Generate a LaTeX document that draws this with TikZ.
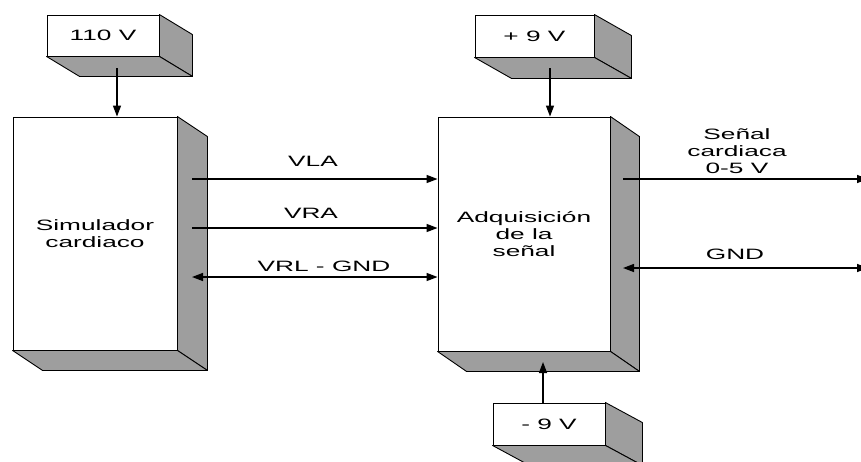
\documentclass[tikz,border=0pt]{standalone}
\usepackage{fontspec}
\newfontfamily\wide{Liberation Sans}[FakeStretch=1.75]
\usetikzlibrary{arrows.meta,calc}
\definecolor{sidegray}{RGB}{158,158,158}
\tikzset{
  face/.style={draw=black, fill=white, line width=0.9pt, rectangle, inner sep=0pt,
    font=\wide\fontsize{15}{17}\selectfont, align=center},
  sideface/.style={draw=black, fill=sidegray, line width=0.9pt, line join=round},
  lbl/.style={font=\wide\fontsize{15}{17}\selectfont, align=center, inner sep=0pt},
  tip/.tip={Triangle[length=11pt,width=8pt]},
  conn/.style={line width=1.4pt, -tip},
  biconn/.style={line width=1.4pt, tip-tip},
}
\newcommand\extrude[3]{%
  \filldraw[sideface] (#1.north east) -- ($(#1.north east)+(#2,#3)$) -- ($(#1.south east)+(#2,#3)$) -- (#1.south east) -- cycle;
  \filldraw[sideface] (#1.south west) -- ($(#1.south west)+(#2,#3)$) -- ($(#1.south east)+(#2,#3)$) -- (#1.south east) -- cycle;
}
\begin{document}
\begin{tikzpicture}[x=1pt,y=-1pt]
  \useasboundingbox (0,0) rectangle (861,461);
  \clip (0,0) rectangle (861,461);

  % blocks
  \node[face, minimum width=112pt, minimum height=41pt] (v110) at (103,35.5) {110 V};
  \node[face, minimum width=164pt, minimum height=233pt] (sim) at (95,233.5) {Simulador\\cardiaco};
  \node[face, minimum width=119pt, minimum height=42pt] (p9) at (534.5,36) {+ 9 V};
  \node[face, minimum width=172pt, minimum height=234pt] (adq) at (524,234) {Adquisición\\de la\\señal};
  \node[face, minimum width=112pt, minimum height=42pt] (m9) at (549,424) {- 9 V};

  \extrude{v110}{33}{20}
  \extrude{sim}{30}{20}
  \extrude{p9}{37}{21}
  \extrude{adq}{29}{20}
  \extrude{m9}{37}{20}

  % connector end points
  \coordinate (s110) at (117,68);
  \coordinate (sp9) at (550,68);
  \coordinate (sm9) at (543,403);
  \coordinate (tm9) at (543,362);
  \coordinate (sla) at (192,179);
  \coordinate (sra) at (192,228);
  \coordinate (srl) at (192,277);
  \coordinate (osig) at (623,179);
  \coordinate (ogn) at (623,268);
  \coordinate (esig) at (868,179);
  \coordinate (egn) at (868,268);

  % connectors
  \draw[conn] (s110) -- (s110 |- sim.north);
  \draw[conn] (sp9) -- (sp9 |- adq.north);
  \draw[conn] (sm9) -- (tm9);
  \draw[conn] (sla) -- (sla -| adq.west);
  \draw[conn] (sra) -- (sra -| adq.west);
  \draw[biconn] (srl) -- (srl -| adq.west);
  \draw[conn] (osig) -- (esig);
  \draw[biconn] (ogn) -- (egn);

  % labels
  \node[lbl] (lvla) at (313,161) {VLA};
  \node[lbl] (lvra) at (311,213) {VRA};
  \node[lbl] (lvrl) at (324,266) {VRL - GND};
  \node[lbl] (lsig) at (737,151) {Señal\\cardiaca\\0-5 V};
  \node[lbl] (lgnd) at (735,254) {GND};
\end{tikzpicture}
\end{document}
